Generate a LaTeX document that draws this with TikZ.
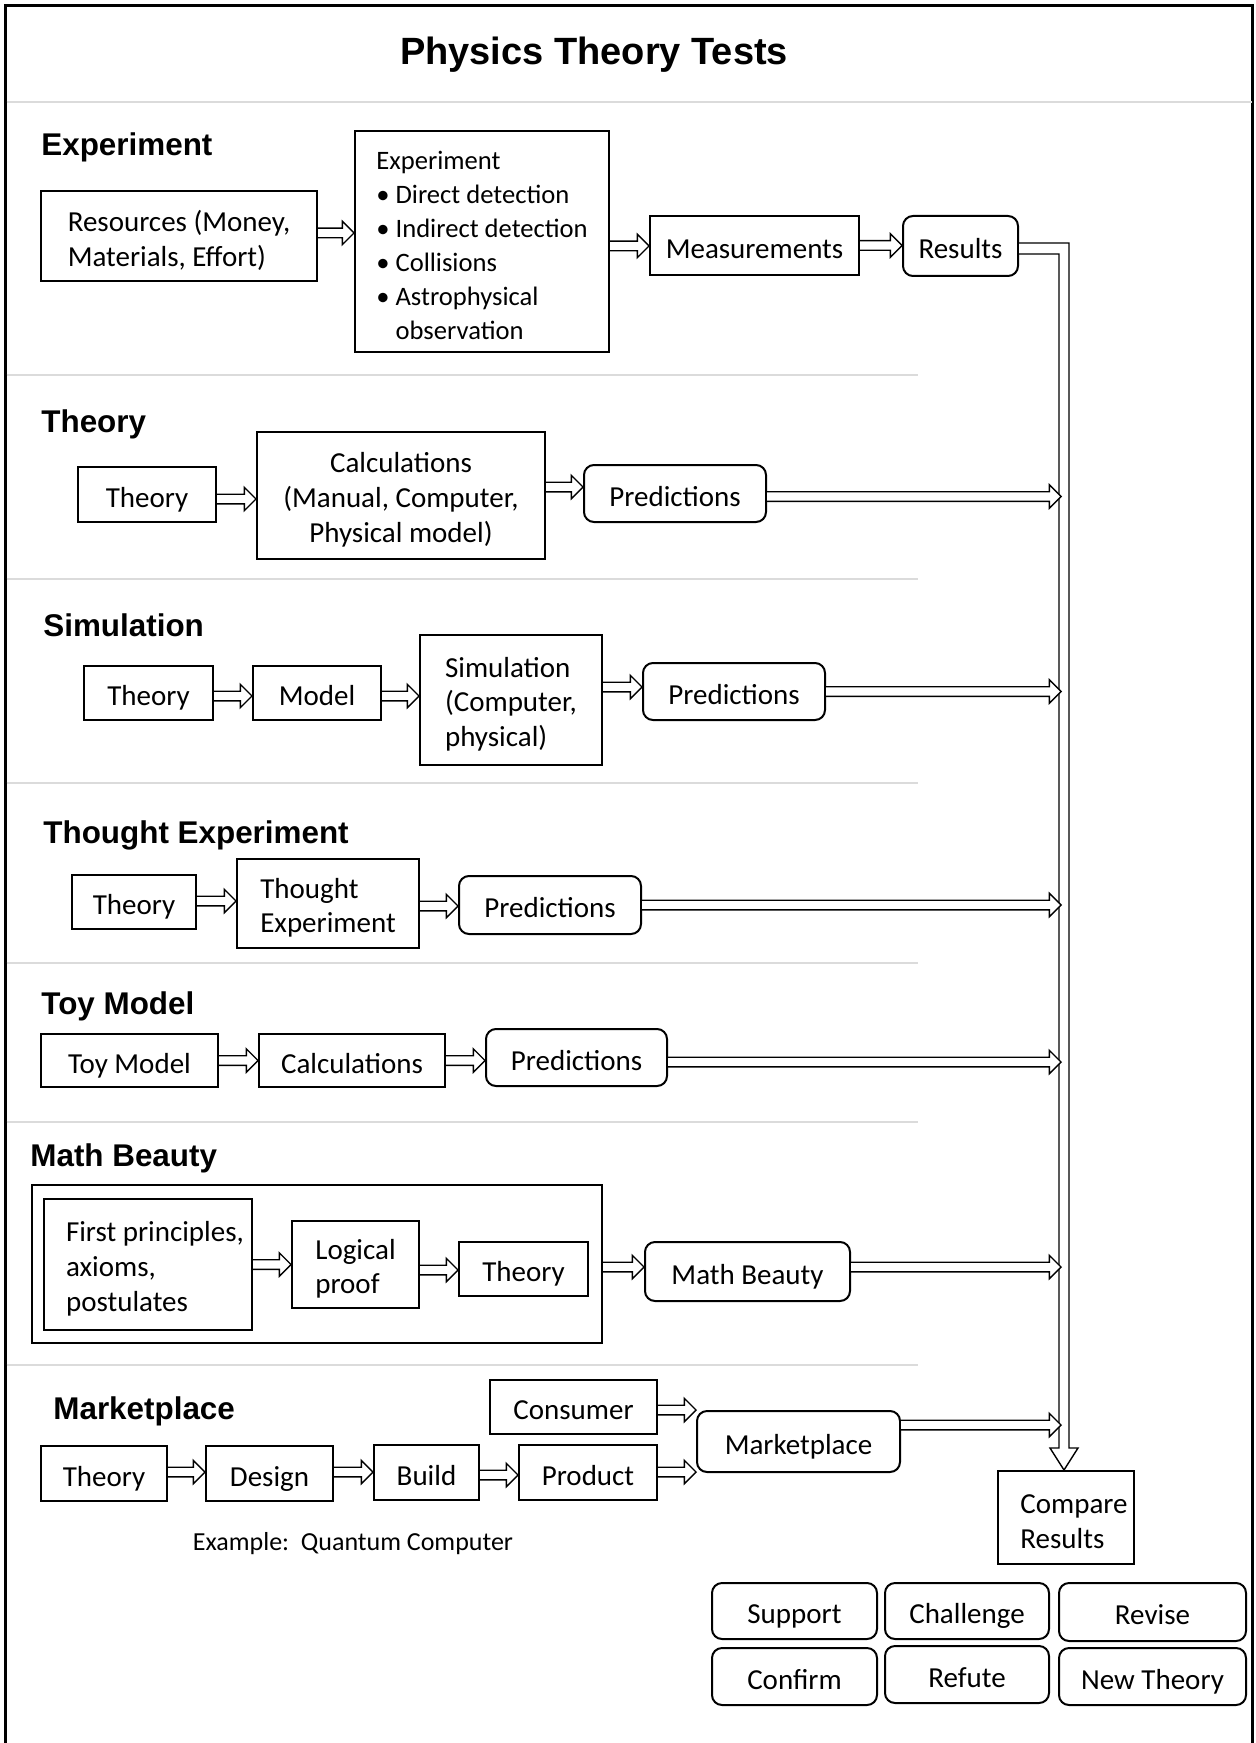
\documentclass[tikz,border=0pt]{standalone}
\usepackage{fontspec}
\setmainfont{Carlito}
\newfontfamily\hfont{Liberation Sans}
\usetikzlibrary{calc}
\tikzset{
  sz/.style 2 args={minimum width=#1*0.5pt, minimum height=#2*0.5pt},
  box/.style={draw, line width=1pt, inner sep=0pt},
  rbox/.style={box, rounded corners=5pt},
  txt/.style={inner sep=0pt, align=center, yshift=-2.1pt, font=\fontsize{14.5}{17.3}\selectfont},
  txtone/.style={txt, text height=10.5pt, text depth=3.5pt, yshift=-0.7pt},
  tx/.style={label={[txtone]center:#1}},
  txm/.style={label={[txt]center:#1}},
  txl/.style={label={[txt, align=left]center:#1}},
  headtxt/.style={anchor=base west, inner sep=0pt, font=\hfont\bfseries\fontsize{15.7}{19}\selectfont},
  titletxt/.style={anchor=base, inner sep=0pt, font=\hfont\bfseries\fontsize{19}{23}\selectfont},
  plain/.style={inner sep=0pt, font=\fontsize{13}{16}\selectfont},
  sepline/.style={draw=black!14, line width=1pt},
  frame/.style={draw, line width=1.2pt},
  blkarrow/.style={draw, line width=0.7pt, fill=white, to path={let \p1=(\tikztostart), \p2=(\tikztotarget) in
     (\x1,\y1+2.4pt) -- (\x2-5.8pt,\y1+2.4pt) -- (\x2-5.8pt,\y1+5.8pt) -- (\x2,\y1) -- (\x2-5.8pt,\y1-5.8pt) -- (\x2-5.8pt,\y1-2.4pt) -- (\x1,\y1-2.4pt)}},
  bigarrow/.style={draw, line width=0.7pt, fill=white},
}
\begin{document}
\begin{tikzpicture}[x=0.5pt,y=-0.5pt]
\useasboundingbox (0,0) rectangle (1255,1743);
% frame and separators
\draw[frame] (5.5,1743) -- (5.5,5.5) -- (1252.5,5.5) -- (1252.5,1743);
\draw[sepline] (6.5,102) -- (1251.5,102);
\foreach \yy in {375,579,783,963,1122,1365} \draw[sepline] (6.5,\yy) -- (918,\yy);
\node[titletxt] (title) at (594,65) {Physics Theory Tests};

% headings
\node[headtxt] (hExp) at (41,156) {Experiment};
\node[headtxt] (hTh) at (41,433) {Theory};
\node[headtxt] (hSim) at (43,636) {Simulation};
\node[headtxt] (hTE) at (43,843) {Thought Experiment};
\node[headtxt] (hToy) at (41,1014) {Toy Model};
\node[headtxt] (hMB) at (30,1166) {Math Beauty};
\node[headtxt] (hMk) at (53,1419) {Marketplace};

% Experiment row
\node[box, sz={276}{90}, txl={Resources (Money,\\Materials, Effort)}] (res) at (179,236) {};
\node[box, sz={254}{221}, label={[txt, align=left, font=\fontsize{13.3}{17}\selectfont]center:Experiment\\\textbullet\ Direct detection\\\textbullet\ Indirect detection\\\textbullet\ Collisions\\\textbullet\ Astrophysical\\\phantom{\textbullet\ }observation}] (exp) at (482,241.5) {};
\node[box, sz={209}{59}, tx={Measurements}] (meas) at (754.5,245.5) {};
\node[rbox, sz={115}{60}, tx={Results}] (results) at (960.5,246) {};

% Theory row
\node[box, sz={138}{55}, tx={Theory}] (th1) at (147,494.5) {};
\node[box, sz={288}{127}, txm={Calculations\\(Manual, Computer,\\Physical model)}] (calc1) at (401,495.5) {};
\node[rbox, sz={182}{57}, tx={Predictions}] (pred1) at (675,493.5) {};

% Simulation row
\node[box, sz={129}{54}, tx={Theory}] (th2) at (148.5,693) {};
\node[box, sz={128}{54}, tx={Model}] (model) at (317,693) {};
\node[box, sz={182}{130}, txl={Simulation\\(Computer,\\physical)}] (sim) at (511,700) {};
\node[rbox, sz={182}{57}, tx={Predictions}] (pred2) at (734,691.5) {};

% Thought experiment row
\node[box, sz={124}{54}, tx={Theory}] (th3) at (134,902) {};
\node[box, sz={182}{89}, txl={Thought\\Experiment}] (te) at (328,903.5) {};
\node[rbox, sz={182}{58}, tx={Predictions}] (pred3) at (550,905) {};

% Toy model row
\node[box, sz={177}{53}, tx={Toy Model}] (toy) at (129.5,1060.5) {};
\node[box, sz={186}{53}, tx={Calculations}] (calc2) at (352,1060.5) {};
\node[rbox, sz={181}{57}, tx={Predictions}] (pred4) at (576.5,1057.5) {};

% Math beauty row
\node[box, sz={570}{158}] (mbbox) at (317,1264) {};
\node[box, sz={208}{131}, label={[txt, align=left, xshift=3.5pt]center:First principles,\\axioms,\\postulates}] (fp) at (148,1264.5) {};
\node[box, sz={127}{87}, txl={Logical\\proof}] (lp) at (355.5,1264.5) {};
\node[box, sz={129}{54}, tx={Theory}] (th4) at (523.5,1269) {};
\node[rbox, sz={205}{59}, tx={Math Beauty}] (mbr) at (747.5,1271.5) {};

% Marketplace row
\node[box, sz={167}{54}, tx={Consumer}] (cons) at (573.5,1407) {};
\node[rbox, sz={203}{61}, tx={Marketplace}] (mkt) at (798.5,1441.5) {};
\node[box, sz={126}{55}, tx={Theory}] (th5) at (104,1473.5) {};
\node[box, sz={127}{55}, tx={Design}] (des) at (269.5,1473.5) {};
\node[box, sz={105}{55}, tx={Build}] (bld) at (426.5,1472.5) {};
\node[box, sz={138}{55}, tx={Product}] (prod) at (588,1472.5) {};
\node[plain] (example) at (353,1544) {Example:\ \ Quantum Computer};

% Compare and outcomes
\node[box, sz={136}{93}, label={[txt, align=left, xshift=4pt]center:Compare\\Results}] (cmp) at (1066,1517.5) {};
\node[rbox, sz={165}{56}, tx={Support}] (sup) at (794.5,1611) {};
\node[rbox, sz={164}{56}, tx={Challenge}] (chal) at (967,1611) {};
\node[rbox, sz={187}{58}, tx={Revise}] (rev) at (1152.5,1612) {};
\node[rbox, sz={165}{57}, tx={Confirm}] (conf) at (794.5,1676.5) {};
\node[rbox, sz={164}{57}, tx={Refute}] (refu) at (967,1674.5) {};
\node[rbox, sz={187}{57}, tx={New Theory}] (newt) at (1152.5,1676.5) {};

% collecting channel
\coordinate (chx) at (1064,0);
\coordinate (chin) at (1061,0);
\draw[bigarrow] let \p1=([shift={(0,2.5)}]results.east), \p2=(chx), \p3=(cmp.north) in
  (\x1,\y1+2.75pt) -- (\x2+2.5pt,\y1+2.75pt) -- (\x2+2.5pt,\y3+11pt) -- (\x2+7pt,\y3+11pt) -- (\x2,\y3)
  -- (\x2-7pt,\y3+11pt) -- (\x2-2.5pt,\y3+11pt) -- (\x2-2.5pt,\y1-2.75pt) -- (\x1,\y1-2.75pt);

% arrows
\path[blkarrow] ([shift={(0,-3)}]res.east) to (exp.west);
\path[blkarrow] ([shift={(0,4.5)}]exp.east) to (meas.west);
\path[blkarrow] (meas.east) to (results.west);

\path[blkarrow] ([shift={(0,4.5)}]th1.east) to (calc1.west);
\path[blkarrow] ([shift={(0,-8.5)}]calc1.east) to (pred1.west);
\path[blkarrow] ([shift={(0,3)}]pred1.east) to (chin);

\path[blkarrow] ([shift={(0,3)}]th2.east) to (model.west);
\path[blkarrow] ([shift={(0,3)}]model.east) to (sim.west);
\path[blkarrow] ([shift={(0,-13)}]sim.east) to (pred2.west);
\path[blkarrow] (pred2.east) to (chin);

\path[blkarrow] ([shift={(0,-1)}]th3.east) to (te.west);
\path[blkarrow] ([shift={(0,2.5)}]te.east) to (pred3.west);
\path[blkarrow] (pred3.east) to (chin);

\path[blkarrow] (toy.east) to (calc2.west);
\path[blkarrow] (calc2.east) to (pred4.west);
\path[blkarrow] ([shift={(0,4.5)}]pred4.east) to (chin);

\path[blkarrow] (fp.east) to (lp.west);
\path[blkarrow] ([shift={(0,5.5)}]lp.east) to (th4.west);
\path[blkarrow] ([shift={(0,3)}]mbbox.east) to (mbr.west);
\path[blkarrow] ([shift={(0,-4.5)}]mbr.east) to (chin);

\path[blkarrow] ([shift={(0,-1.5)}]th5.east) to (des.west);
\path[blkarrow] ([shift={(0,-1.5)}]des.east) to (bld.west);
\path[blkarrow] ([shift={(0,2.5)}]bld.east) to (prod.west);
\path[blkarrow] ([shift={(0,-0.5)}]prod.east) to (mkt.west);
\path[blkarrow] ([shift={(0,3)}]cons.east) to (mkt.west);
\path[blkarrow] ([shift={(0,-16.5)}]mkt.east) to (chin);
\end{tikzpicture}
\end{document}
